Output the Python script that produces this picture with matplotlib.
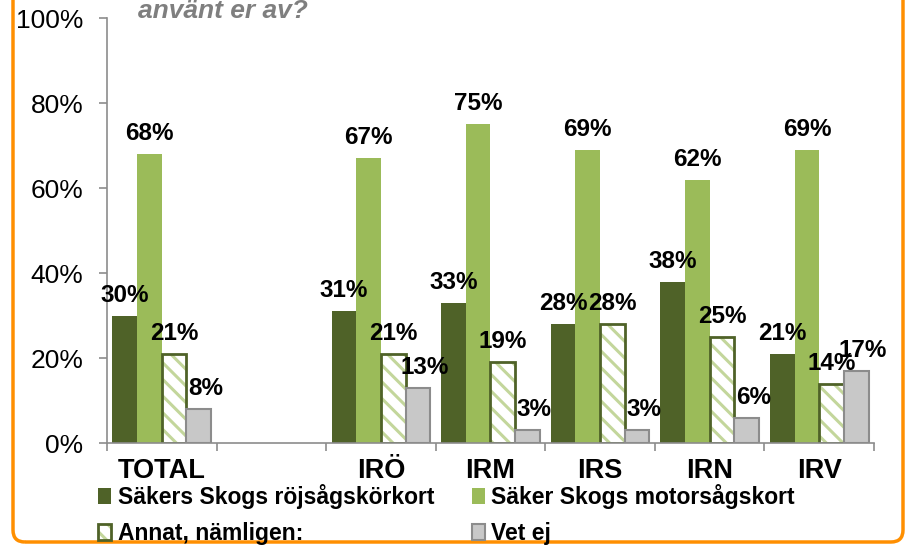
import matplotlib.pyplot as plt
import numpy as np
from matplotlib.patches import Patch, FancyBboxPatch

plt.rcParams['font.family'] = ['Liberation Sans', 'DejaVu Sans']
plt.rcParams['hatch.linewidth'] = 2.2

# data (empty slot between TOTAL and the regions)
categories = ['TOTAL', '', 'IRÖ', 'IRM', 'IRS', 'IRN', 'IRV']
rojsag = [30, None, 31, 33, 28, 38, 21]
motorsag = [68, None, 67, 75, 69, 62, 69]
annat = [21, None, 21, 19, 28, 25, 14]
vet_ej = [8, None, 13, 3, 3, 6, 17]
series_names = ['Säkers Skogs röjsågskörkort', 'Säker Skogs motorsågskort',
                'Annat, nämligen:', 'Vet ej']
title_tail = 'använt er av?'

DARK = '#4F6228'
LIGHT = '#9BBB59'
HATCH = '#C3D69B'
GREY = '#C8C8C8'
GREY_EDGE = '#8C8C8C'
ORANGE = '#FF8F00'

def arr(v):
    return np.array([np.nan if x is None else x for x in v], dtype=float)

fig = plt.figure(figsize=(9.09, 5.46), dpi=100)
ax = fig.add_axes([0.1177, 0.1886, 0.9615 - 0.1177, 0.967 - 0.1886])

x = np.arange(len(categories))
w = 0.225
offs = [-1.5 * w, -0.5 * w, 0.5 * w, 1.5 * w]

ax.bar(x + offs[0], arr(rojsag), w, color=DARK, linewidth=0)
ax.bar(x + offs[1], arr(motorsag), w, color=LIGHT, linewidth=0)
ax.bar(x + offs[2], arr(annat), w, color='white', edgecolor=HATCH,
       hatch='\\\\', linewidth=0)
ax.bar(x + offs[2], arr(annat), w, color='none', edgecolor=DARK, linewidth=2)
ax.bar(x + offs[3], arr(vet_ej), w, color=GREY, edgecolor=GREY_EDGE,
       linewidth=1.5)

# data labels
label_shift = [0, 0, 0, 5]
for k, vals in enumerate([rojsag, motorsag, annat, vet_ej]):
    for i, v in enumerate(vals):
        if v is None:
            continue
        ax.annotate(f'{v}%', (x[i] + offs[k], v), xytext=(label_shift[k], 10),
                    textcoords='offset points', ha='center', va='baseline',
                    fontsize=17.5, fontweight='bold', color='black')

ax.set_xlim(-0.5, len(categories) - 0.5)
ax.set_ylim(0, 100)
ax.set_yticks(np.arange(0, 101, 20))
ax.set_yticklabels([f'{t}%' for t in range(0, 101, 20)], fontsize=19)
ax.set_xticks(x)
ax.set_xticklabels(categories, fontsize=19.5, fontweight='bold')
ax.set_xticks(np.arange(-0.5, len(categories), 1), minor=True)
ax.tick_params(axis='x', which='major', length=0, pad=11)
ax.tick_params(axis='x', which='minor', length=6, color=GREY_EDGE, width=1.2)
ax.tick_params(axis='y', length=6, color=GREY_EDGE, width=1.2, pad=11)

for s in ['top', 'right']:
    ax.spines[s].set_visible(False)
for s in ['left', 'bottom']:
    ax.spines[s].set_color(GREY_EDGE)
    ax.spines[s].set_linewidth(1.2)

# legend
h_annat = (Patch(facecolor='white', edgecolor=HATCH, hatch='\\\\', linewidth=0),
           Patch(facecolor='none', edgecolor=DARK, linewidth=2))
handles = [Patch(facecolor=DARK), h_annat, Patch(facecolor=LIGHT),
           Patch(facecolor=GREY, edgecolor=GREY_EDGE, linewidth=1.5)]
labels = [series_names[0], series_names[2], series_names[1], series_names[3]]
fig.legend(handles, labels, ncol=2, loc='upper left',
           bbox_to_anchor=(0.108, 1 - 484 / 546), frameon=False,
           prop={'size': 16.5, 'weight': 'bold'}, handlelength=0.55,
           handleheight=0.7, handletextpad=0.3, columnspacing=1.65,
           labelspacing=0.55, borderpad=0, borderaxespad=0)

# title fragment, cut off at the top
fig.text(138 / 909, 1 - 18 / 546, title_tail, fontsize=19, fontweight='bold',
         fontstyle='italic', color='#7F7F7F', va='baseline', ha='left')

# orange rounded frame
frame = FancyBboxPatch((0.13, 0.04), 8.9, 6.0,
                       boxstyle='round,pad=0,rounding_size=0.12',
                       transform=fig.dpi_scale_trans, facecolor='none',
                       edgecolor=ORANGE, linewidth=2.5, clip_on=False)
fig.patches.append(frame)

fig.savefig('out.png', dpi=100)
